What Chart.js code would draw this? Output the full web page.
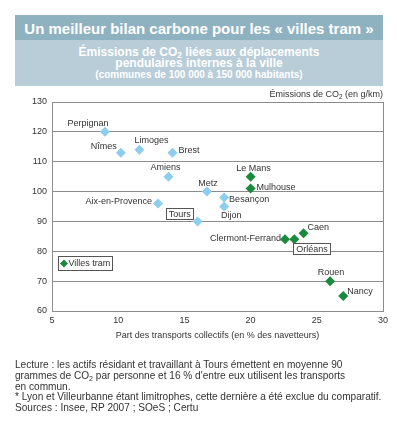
<!DOCTYPE html>
<html>
<head>
<meta charset="utf-8">
<script src="https://cdn.jsdelivr.net/npm/chart.js@4.4.1/dist/chart.umd.min.js"></script>
<style>
  html, body { margin:0; padding:0; background:#fff; }
  body { width:397px; height:432px; position:relative; overflow:hidden; font-family:"Liberation Sans", Arial, sans-serif; }
  #c { position:absolute; left:0; top:0; }
  .abs { position:absolute; white-space:nowrap; }
  sub { font-size:70%; vertical-align:-2px; line-height:0; }
</style>
</head>
<body>
<div class="abs" style="left:15px;top:15px;width:368px;height:25px;background:#8fb2c1;"></div>
<div class="abs" style="left:15px;top:40px;width:368px;height:46px;background:#b8cdd8;"></div>
<div class="abs" style="left:15px;top:19px;width:368px;text-align:center;color:#fff;font-weight:bold;font-size:15px;line-height:19px;">Un meilleur bilan carbone pour les « villes tram »</div>
<div class="abs" style="left:15px;top:46px;width:368px;text-align:center;color:#fff;font-weight:bold;font-size:12px;line-height:13px;">Émissions de CO<sub>2</sub> liées aux déplacements</div>
<div class="abs" style="left:15px;top:57px;width:368px;text-align:center;color:#fff;font-weight:bold;font-size:12px;line-height:13px;">pendulaires internes à la ville</div>
<div class="abs" style="left:15px;top:69px;width:368px;text-align:center;color:#fff;font-weight:bold;font-size:10px;line-height:12px;">(communes de 100 000 à 150 000 habitants)</div>

<canvas id="c" width="397" height="432"></canvas>

<div class="abs" style="right:14px;top:89px;font-size:9px;line-height:11px;color:#333;">Émissions de CO<sub>2</sub> (en g/km)</div>
<div class="abs" style="left:52px;width:331px;top:330px;text-align:center;font-size:9px;line-height:11px;color:#333;">Part des transports collectifs (en % des navetteurs)</div>

<div class="abs" style="left:15px;top:360px;font-size:10.1px;line-height:10.75px;color:#333;">Lecture : les actifs résidant et travaillant à Tours émettent en moyenne 90<br>grammes de CO<sub>2</sub> par personne et 16 % d'entre eux utilisent les transports<br>en commun.<br>* Lyon et Villeurbanne étant limitrophes, cette dernière a été exclue du comparatif.<br>Sources : Insee, RP 2007 ; SOeS ; Certu</div>

<script>
// ---- Data ----
const autresVilles = ['Perpignan','Nîmes','Limoges','Brest','Amiens','Aix-en-Provence','Tours','Metz','Besançon','Dijon'];
const autresPartTC = [9, 10.2, 11.6, 14.1, 13.8, 13, 16, 16.7, 18, 18];
const autresEmissions = [120, 113, 114, 113, 105, 96, 90, 100, 98, 95];

const tramVilles = ['Le Mans','Mulhouse','Caen','Clermont-Ferrand','Orléans','Rouen','Nancy'];
const tramPartTC = [20, 20, 24, 22.6, 23.3, 26, 27];
const tramEmissions = [105, 101, 86, 84, 84, 70, 65];

const xTicks = [5, 10, 15, 20, 25, 30];
const yTicks = [60, 70, 80, 90, 100, 110, 120, 130];

// ---- Label placement (style only) ----
const labelPlacement = {
  'Perpignan': {dx:-17, dy:-8, align:'center'},
  'Nîmes': {dx:-4, dy:-6, align:'right'},
  'Limoges': {dx:-5, dy:-9, align:'left'},
  'Brest': {dx:6, dy:-2, align:'left'},
  'Amiens': {dx:-3, dy:-9, align:'center'},
  'Aix-en-Provence': {dx:-6, dy:-2, align:'right'},
  'Tours': {dx:-7, dy:-7, align:'right', box:true},
  'Metz': {dx:1, dy:-8, align:'center'},
  'Besançon': {dx:5, dy:2, align:'left'},
  'Dijon': {dx:-3, dy:9, align:'left'},
  'Le Mans': {dx:3, dy:-8, align:'center'},
  'Mulhouse': {dx:6, dy:-1, align:'left'},
  'Caen': {dx:4, dy:-6, align:'left'},
  'Clermont-Ferrand': {dx:-4, dy:-1, align:'right'},
  'Orléans': {dx:2, dy:10, align:'left', box:true},
  'Rouen': {dx:1, dy:-9, align:'center'},
  'Nancy': {dx:4, dy:-5, align:'left'}
};

const BLUE = '#8dcdee';
const GREEN = '#1a8a3c';
const FONT = '"Liberation Sans", Arial, sans-serif';

const toPts = (xs, ys, names) => xs.map((x, i) => ({x: x, y: ys[i], name: names[i]}));

const labelsPlugin = {
  id: 'pointLabels',
  afterDatasetsDraw(chart) {
    const ctx = chart.ctx;
    ctx.save();
    ctx.font = '9px ' + FONT;
    ctx.textBaseline = 'middle';
    chart.data.datasets.forEach((ds, di) => {
      const meta = chart.getDatasetMeta(di);
      meta.data.forEach((el, i) => {
        const name = ds.data[i].name;
        const p = labelPlacement[name] || {dx:5, dy:0, align:'left'};
        const tx = el.x + p.dx, ty = el.y + p.dy;
        ctx.textAlign = p.align;
        const w = ctx.measureText(name).width;
        if (p.box) {
          let left = p.align === 'left' ? tx : (p.align === 'right' ? tx - w : tx - w / 2);
          ctx.fillStyle = '#fff';
          ctx.fillRect(Math.round(left) - 2.5, Math.round(ty) - 5.5, Math.round(w) + 5, 11);
          ctx.strokeStyle = '#555';
          ctx.lineWidth = 1;
          ctx.strokeRect(Math.round(left) - 2.5, Math.round(ty) - 5.5, Math.round(w) + 5, 11);
        }
        ctx.fillStyle = '#333';
        ctx.fillText(name, tx, ty);
      });
    });
    // legend box for "Villes tram"
    const ds = chart.data.datasets[1];
    const lx = 58.5, ly = 256.5, lw = 54, lh = 14;
    ctx.fillStyle = '#fff';
    ctx.fillRect(lx, ly, lw, lh);
    ctx.strokeStyle = '#555';
    ctx.lineWidth = 1;
    ctx.strokeRect(lx, ly, lw, lh);
    ctx.fillStyle = ds.backgroundColor;
    const cx = 64, cy = 263.5, r = 4;
    ctx.beginPath();
    ctx.moveTo(cx, cy - r); ctx.lineTo(cx + r, cy); ctx.lineTo(cx, cy + r); ctx.lineTo(cx - r, cy); ctx.closePath();
    ctx.fill();
    ctx.fillStyle = '#333';
    ctx.textAlign = 'left';
    ctx.font = '9px ' + FONT;
    ctx.fillText(ds.label, 68.5, cy);
    ctx.restore();
  }
};

new Chart(document.getElementById('c'), {
  type: 'scatter',
  data: {
    datasets: [
      { label: 'Autres villes', data: toPts(autresPartTC, autresEmissions, autresVilles),
        backgroundColor: BLUE, borderColor: BLUE, pointStyle: 'rectRot', pointRadius: 5, pointHoverRadius: 5, borderWidth: 0 },
      { label: 'Villes tram', data: toPts(tramPartTC, tramEmissions, tramVilles),
        backgroundColor: GREEN, borderColor: GREEN, pointStyle: 'rectRot', pointRadius: 5, pointHoverRadius: 5, borderWidth: 0 }
    ]
  },
  options: {
    responsive: false,
    animation: false,
    devicePixelRatio: 1,
    layout: { padding: { left: 0, right: 14, top: 102, bottom: 91 } },
    plugins: { legend: { display: false }, tooltip: { enabled: false } },
    scales: {
      x: {
        type: 'linear', min: 5, max: 30,
        afterBuildTicks: (s) => { s.ticks = xTicks.map(v => ({value: v})); },
        afterFit: (s) => { s.height = 30; },
        grid: { drawTicks: false, color: (c) => c.tick && c.tick.value === 30 ? '#8c8c8c' : 'rgba(0,0,0,0)' },
        border: { display: true, color: '#8c8c8c', width: 1 },
        ticks: { padding: 4, color: '#333', font: { family: FONT, size: 9 } }
      },
      y: {
        type: 'linear', min: 60, max: 130,
        afterBuildTicks: (s) => { s.ticks = yTicks.map(v => ({value: v})); },
        afterFit: (s) => { s.width = 52; },
        grid: { drawTicks: false, color: '#8c8c8c', lineWidth: 1 },
        border: { display: true, color: '#8c8c8c', width: 1 },
        ticks: { padding: 5, color: '#333', font: { family: FONT, size: 9 } }
      }
    }
  },
  plugins: [labelsPlugin]
});
</script>
</body>
</html>
